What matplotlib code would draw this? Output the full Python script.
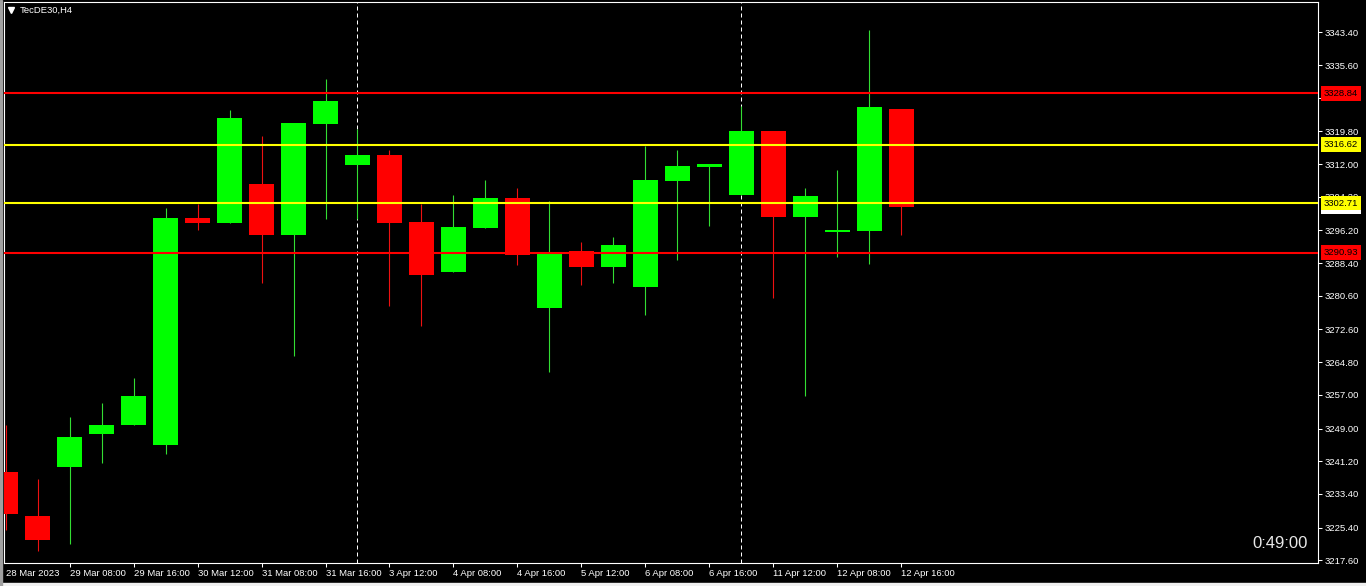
import matplotlib
matplotlib.use('Agg')
import matplotlib.pyplot as plt
from matplotlib.lines import Line2D
from matplotlib.patches import Rectangle

plt.rcParams['font.family'] = ['Liberation Sans', 'DejaVu Sans']

# TecDE30 H4 candles
opens = [3238.64, 3228.15, 3239.90, 3247.76, 3249.91, 3245.14, 3299.16, 3297.96,
         3307.26, 3295.10, 3321.55, 3311.78, 3314.17, 3298.20, 3286.29, 3296.77,
         3303.92, 3277.71, 3291.29, 3287.48, 3282.72, 3307.97, 3311.31, 3304.64,
         3319.88, 3299.39, 3295.90, 3296.06, 3325.13]
highs = [3249.83, 3236.97, 3251.74, 3255.08, 3261.10, 3301.54, 3302.49, 3324.89,
         3318.69, 3321.79, 3332.27, 3320.36, 3315.36, 3302.49, 3304.64, 3308.21,
         3306.30, 3303.21, 3293.44, 3294.63, 3316.31, 3315.36, 3312.02, 3325.84,
         3319.88, 3306.30, 3310.59, 3343.95, 3325.13]
lows = [3224.82, 3219.89, 3221.55, 3240.85, 3249.91, 3243.00, 3296.30, 3297.96,
        3283.67, 3266.28, 3298.92, 3298.92, 3278.19, 3273.42, 3286.29, 3296.77,
        3287.96, 3262.46, 3283.19, 3283.67, 3276.04, 3289.15, 3297.25, 3304.64,
        3280.17, 3256.75, 3289.86, 3288.20, 3295.10]
closes = [3228.70, 3222.51, 3246.98, 3249.83, 3256.75, 3299.16, 3297.96, 3322.98,
          3295.10, 3321.79, 3327.03, 3314.17, 3297.96, 3285.57, 3297.01, 3303.92,
          3290.34, 3290.82, 3287.48, 3292.72, 3308.21, 3311.54, 3312.02, 3319.88,
          3299.39, 3304.40, 3296.40, 3325.60, 3301.78]

date_labels = ['28 Mar 2023', '29 Mar 08:00', '29 Mar 16:00', '30 Mar 12:00',
               '31 Mar 08:00', '31 Mar 16:00', '3 Apr 12:00', '4 Apr 08:00',
               '4 Apr 16:00', '5 Apr 12:00', '6 Apr 08:00', '6 Apr 16:00',
               '11 Apr 12:00', '12 Apr 08:00', '12 Apr 16:00']
separators = [11, 23]  # week separators

price_ticks = [3343.40, 3335.60, 3327.80, 3319.80, 3312.00, 3304.20, 3296.20,
               3288.40, 3280.60, 3272.60, 3264.80, 3257.00, 3249.00, 3241.20,
               3233.40, 3225.40, 3217.60]

levels = [3328.84, 3316.62, 3302.71, 3290.93]
level_colors = ['#ff0000', '#ffff00', '#ffff00', '#ff0000']

W, H = 1366, 586
fig = plt.figure(figsize=(W / 100, H / 100), dpi=100, facecolor='black')
ax = fig.add_axes([4 / W, 23 / H, 1314 / W, 561 / H])
ax.set_facecolor('black')

x = list(range(len(opens)))
up = [c >= o for o, c in zip(opens, closes)]
colors = ['#00ff00' if u else '#ff0000' for u in up]
wick_colors = ['#33dd33' if u else '#ee1111' for u in up]
bottoms = [min(o, c) for o, c in zip(opens, closes)]
heights = [abs(c - o) for o, c in zip(opens, closes)]

for s in separators:
    ax.axvline(s, color='white', linestyle=(0, (4, 3)), lw=0.72, zorder=1)

ax.vlines(x, lows, highs, colors=wick_colors, lw=0.8, zorder=2)
ax.bar(x, heights, bottom=bottoms, width=0.78, color=colors, linewidth=0, zorder=3)

for lvl, col in zip(levels, level_colors):
    ax.axhline(lvl, color=col, lw=1.5, zorder=4)

ax.set_xlim(-0.047, 41.016)
ax.set_ylim(3216.96, 3350.62)

for sp in ax.spines.values():
    sp.set_color('white')
    sp.set_linewidth(0.8)

# price axis on the right
ax.yaxis.tick_right()
ax.set_yticks(price_ticks)
ax.set_yticklabels([f'{p:.2f}' for p in price_ticks])
ax.tick_params(axis='y', colors='white', length=3, width=0.75, pad=1.5, labelsize=6.8)
for lab in ax.get_yticklabels():
    lab.set_horizontalalignment('left')

# time axis
ax.set_xticks(range(0, len(opens), 2))
ax.set_xticklabels(date_labels)
ax.tick_params(axis='x', colors='white', length=3, width=0.75, pad=1.5, labelsize=6.8)
for lab in ax.get_xticklabels():
    lab.set_horizontalalignment('left')
ax.xaxis.get_major_ticks()[0].tick1line.set_visible(False)

# bid label, mostly hidden behind the yellow one
ax.annotate(f'{closes[-1]:.2f}', xy=(1, closes[-1]), xycoords=('axes fraction', 'data'),
            xytext=(4.3, 0), textcoords='offset points', ha='left', va='center',
            fontsize=6.8, color='black', annotation_clip=False, zorder=5,
            bbox=dict(boxstyle='square,pad=0.3', fc='white', ec='none'))
for lvl, col in zip(levels, level_colors):
    ax.annotate(f'{lvl:.2f}', xy=(1, lvl), xycoords=('axes fraction', 'data'),
                xytext=(4.3, 0), textcoords='offset points', ha='left', va='center',
                fontsize=6.8, color='black', annotation_clip=False, zorder=6,
                bbox=dict(boxstyle='square,pad=0.3', fc=col, ec='none'))

fig.text(20 / W, 1 - 10 / H, 'TecDE30,H4', color='white', fontsize=6.8, va='center', ha='left')
fig.add_artist(Line2D([11 / W], [1 - 10 / H], marker='v', ms=4, color='white',
                      lw=0, transform=fig.transFigure))
fig.text(1308 / W, 1 - 544 / H, '0:49:00', color='#e8e8e8', fontsize=12, va='center', ha='right')

fig.add_artist(Rectangle((0, 0), 1, 3 / H, transform=fig.transFigure, color='#f0f0f0'))
fig.add_artist(Rectangle((0, 0), 2 / W, 1, transform=fig.transFigure, color='#a0a0a0'))

fig.savefig('out.png', dpi=100, facecolor='black')
